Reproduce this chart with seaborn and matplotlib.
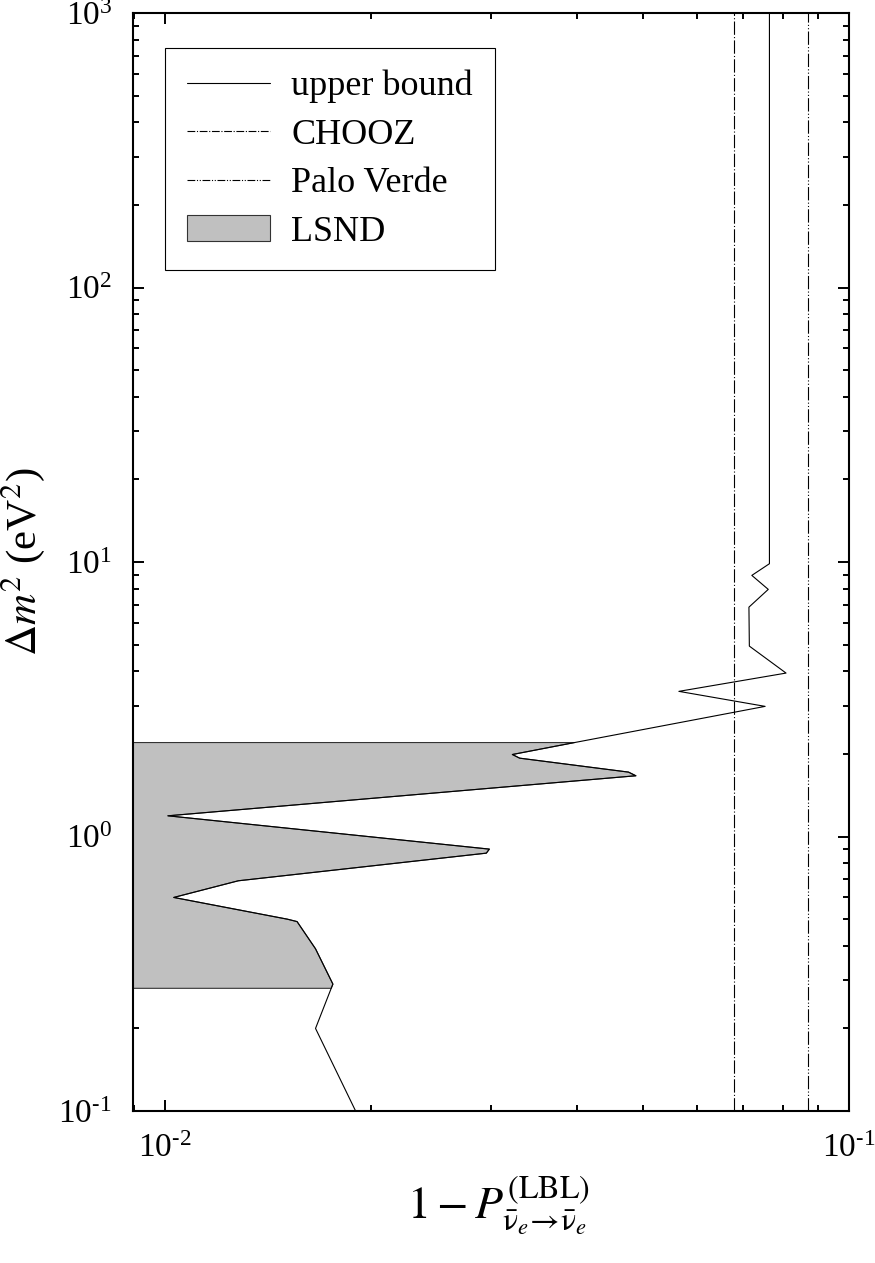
import matplotlib
matplotlib.use("Agg")
import matplotlib.pyplot as plt
import seaborn as sns
import pandas as pd
import numpy as np
from matplotlib.lines import Line2D
from matplotlib.patches import Patch
from matplotlib.ticker import LogLocator, FuncFormatter

# upper bound curve (ordered along dm2)
ub_prob = [0.0190, 0.0166, 0.0175, 0.0176, 0.0166, 0.0156, 0.0151, 0.0103,
           0.0128, 0.0295, 0.0298, 0.0101, 0.0488, 0.0476, 0.0330, 0.0322,
           0.0397, 0.0754, 0.0564, 0.0809, 0.0715, 0.0714, 0.0762, 0.0721,
           0.0765, 0.0765]
ub_dm2 = [0.10, 0.20, 0.28, 0.29, 0.39, 0.49, 0.50, 0.60,
          0.69, 0.87, 0.90, 1.19, 1.665, 1.717, 1.93, 1.99,
          2.20, 2.98, 3.38, 3.94, 4.94, 6.85, 7.95, 8.94,
          9.86, 1000.0]

chooz_bound = 0.0680
palo_verde_bound = 0.0870

lsnd_lo = 0.28
lsnd_hi = 2.20

sns.set_theme(style="ticks")
plt.rcParams['font.family'] = ['Liberation Serif', 'DejaVu Serif']
plt.rcParams['mathtext.fontset'] = 'stix'
plt.rcParams['axes.unicode_minus'] = False
for k in ['text.color', 'axes.labelcolor', 'xtick.color', 'ytick.color', 'axes.edgecolor']:
    plt.rcParams[k] = 'black'

df = pd.DataFrame({'prob': ub_prob, 'dm2': ub_dm2})
band = df[(df['dm2'] >= lsnd_lo) & (df['dm2'] <= lsnd_hi)]

fig = plt.figure(figsize=(8.75, 12.63), dpi=100)
ax = fig.add_axes([0.152, 0.1203, 0.8183, 0.8694])
ax.set_xscale('log')
ax.set_yscale('log')

# LSND region: from the left edge up to the bound curve
ax.fill_betweenx(band['dm2'], 1e-3, band['prob'], facecolor='#c0c0c0',
                 edgecolor='#333333', lw=0.8, zorder=1)

sns.lineplot(data=df, x='prob', y='dm2', sort=False, estimator=None,
             color='black', lw=0.8, ax=ax, zorder=3)

ax.axvline(chooz_bound, color='black', lw=0.8, ls=(0, (12, 2, 1, 2)))
ax.axvline(palo_verde_bound, color='black', lw=0.8, ls=(0, (12, 2, 1, 2, 1, 2)))

ax.set_xlim(0.00898, 0.1)
ax.set_ylim(0.1, 1000)


def pow10(v, pos):
    e = int(round(np.log10(v)))
    if e < 0:
        return r'$\mathdefault{10^{\text{-}%d}}$' % (-e)
    return r'$\mathdefault{10^{%d}}$' % e


ax.xaxis.set_major_locator(LogLocator(base=10))
ax.yaxis.set_major_locator(LogLocator(base=10))
ax.xaxis.set_minor_locator(LogLocator(base=10, subs=range(2, 10)))
ax.yaxis.set_minor_locator(LogLocator(base=10, subs=range(2, 10)))
ax.xaxis.set_major_formatter(FuncFormatter(pow10))
ax.yaxis.set_major_formatter(FuncFormatter(pow10))

for s in ax.spines.values():
    s.set_linewidth(1.5)
    s.set_color('black')
    s.set_visible(True)
ax.tick_params(which='both', direction='in', top=True, right=True,
               width=1.4, color='black', labelsize=24, labelcolor='black')
ax.tick_params(which='major', length=8)
ax.tick_params(which='minor', length=4.5)
ax.tick_params(axis='y', which='major', pad=15)
ax.tick_params(axis='x', which='major', pad=16)

ax.set_xlabel(r'$1-P^{\mathrm{(LBL)}}_{\bar{\mathrm{\nu}}_e\!\rightarrow\!\bar{\mathrm{\nu}}_e}$',
              fontsize=33)
ax.set_ylabel(r'$\Delta m^2$ (eV$^2$)', fontsize=31)
ax.xaxis.set_label_coords(0.51, -0.058)
ax.yaxis.set_label_coords(-0.12, 0.5)

handles = [
    Line2D([], [], color='black', lw=0.8),
    Line2D([], [], color='black', lw=0.8, ls=(0, (7, 1.5, 1, 1.5))),
    Line2D([], [], color='black', lw=0.8, ls=(0, (7, 1.5, 1, 1.5, 1, 1.5))),
    Patch(facecolor='#c0c0c0', edgecolor='#333333', lw=0.8),
]
labels = ['upper bound', 'CHOOZ', 'Palo Verde', 'LSND']
leg = ax.legend(handles, labels, loc='upper left', bbox_to_anchor=(0.0447, 0.968),
                borderaxespad=0, fontsize=26, handlelength=2.3, handletextpad=0.6,
                labelspacing=0.42, borderpad=0.6, fancybox=False, framealpha=1)
leg.get_frame().set_edgecolor('black')
leg.get_frame().set_linewidth(0.8)

fig.savefig('out.png', dpi=100)
